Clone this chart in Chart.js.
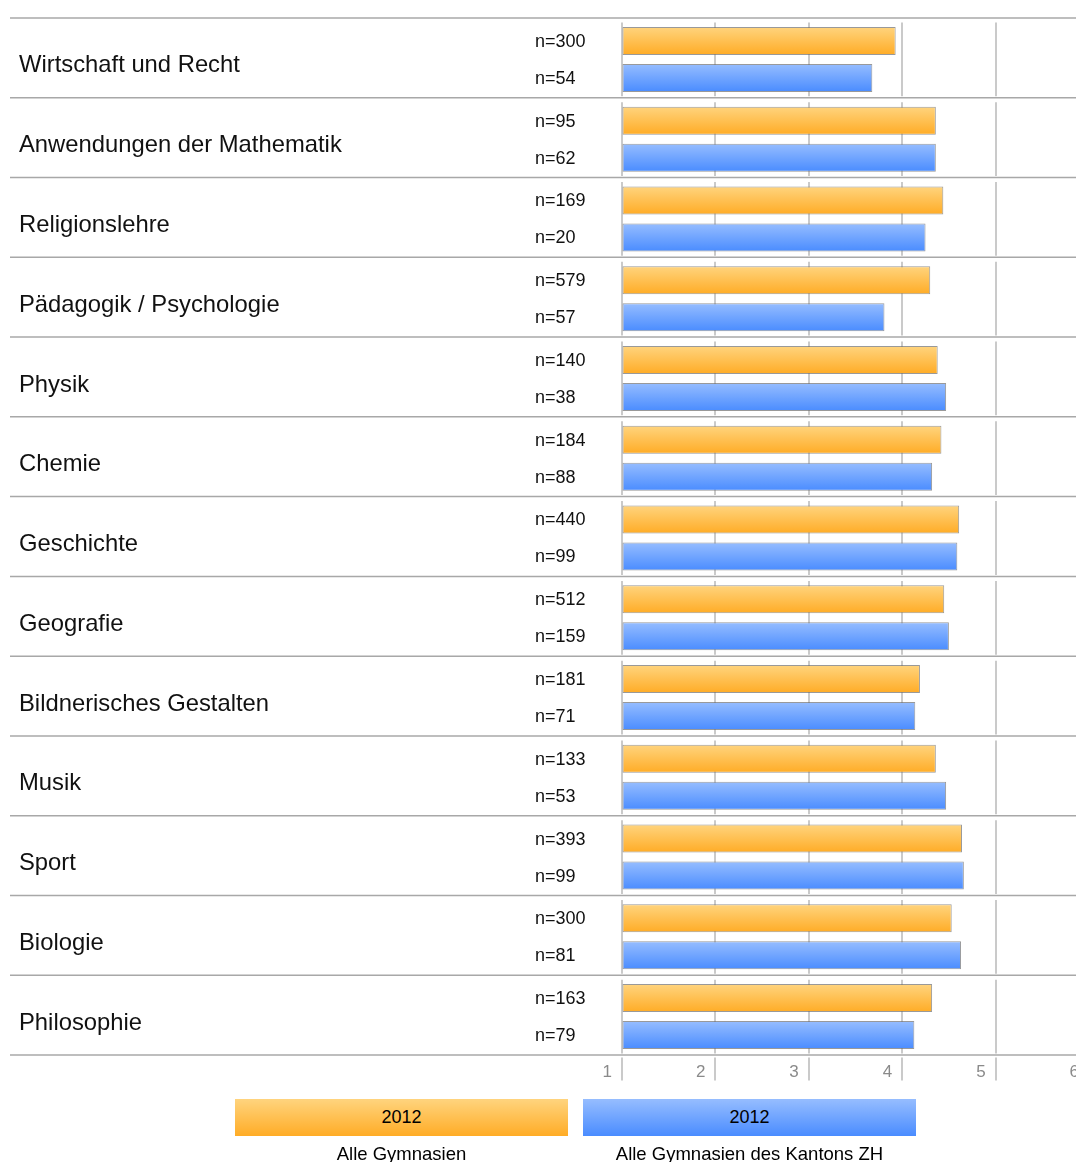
<!DOCTYPE html>
<html>
<head>
<meta charset="utf-8">
<script src="https://cdn.jsdelivr.net/npm/chart.js@4"></script>
<style>
  html, body { margin: 0; padding: 0; background: #fff; overflow: hidden; }
  #wrap { position: relative; width: 1076px; height: 1162px; overflow: hidden; }
  #c { position: absolute; left: 0; top: 0; }
  .lbox { position: absolute; top: 1099px; width: 333px; height: 37px;
          font: 18px "Liberation Sans", Arial, sans-serif; line-height: 37px;
          text-align: center; color: #000; }
  .lcap { position: absolute; top: 1143px; width: 333px; text-align: center;
          font: 18.5px "Liberation Sans", Arial, sans-serif; line-height: 21px; color: #000; white-space: nowrap; }
</style>
</head>
<body>
<div id="wrap">
  <canvas id="c" width="1089" height="1162"></canvas>
  <div class="lbox" id="lb0" style="left:235px;background:linear-gradient(#FFD47E,#FFAC26);"></div>
  <div class="lbox" id="lb1" style="left:583px;background:linear-gradient(#96BDFF,#4A8CFF);"></div>
  <div class="lcap" id="lc0" style="left:235px;"></div>
  <div class="lcap" id="lc1" style="left:583px;"></div>
</div>
<script>
const categories = ["Wirtschaft und Recht", "Anwendungen der Mathematik", "Religionslehre",
  "Pädagogik / Psychologie", "Physik", "Chemie", "Geschichte", "Geografie",
  "Bildnerisches Gestalten", "Musik", "Sport", "Biologie", "Philosophie"];
const valuesAlle = [3.93, 4.36, 4.44, 4.30, 4.38, 4.42, 4.61, 4.45, 4.19, 4.36, 4.64, 4.53, 4.32];
const valuesZH   = [3.68, 4.36, 4.25, 3.81, 4.47, 4.32, 4.59, 4.50, 4.14, 4.47, 4.66, 4.63, 4.13];
const nAlle = [300, 95, 169, 579, 140, 184, 440, 512, 181, 133, 393, 300, 163];
const nZH   = [54, 62, 20, 57, 38, 88, 99, 159, 71, 53, 99, 81, 79];
const seriesYears = ["2012", "2012"];
const seriesNames = ["Alle Gymnasien", "Alle Gymnasien des Kantons ZH"];
const xTicks = [1, 2, 3, 4, 5, 6];

document.getElementById('lb0').textContent = seriesYears[0];
document.getElementById('lb1').textContent = seriesYears[1];
document.getElementById('lc0').textContent = seriesNames[0];
document.getElementById('lc1').textContent = seriesNames[1];

const FONT = '"Liberation Sans", Arial, sans-serif';
const gradStops = [["#FFD47E", "#FFAC26"], ["#96BDFF", "#4A8CFF"]];

function barGrad(c, ds) {
  const ch = c.chart;
  if (!ch.chartArea || c.dataIndex === undefined || !ch.scales.y) return gradStops[ds][1];
  const band = (ch.chartArea.bottom - ch.chartArea.top) / categories.length;
  const off = band * 0.9277 / 4;
  const cy = ch.scales.y.getPixelForValue(c.dataIndex) + (ds === 0 ? -off : off);
  const g = ch.ctx.createLinearGradient(0, cy - 14, 0, cy + 14);
  g.addColorStop(0, gradStops[ds][0]);
  g.addColorStop(1, gradStops[ds][1]);
  return g;
}

const decor = {
  id: 'decor',
  beforeDatasetsDraw(chart) {
    const ctx = chart.ctx, a = chart.chartArea, x = chart.scales.x;
    const n = categories.length, band = (a.bottom - a.top) / n;
    ctx.save();
    ctx.strokeStyle = '#b8b8b8';
    ctx.lineWidth = 1.5;
    xTicks.forEach(v => {
      const px = Math.round(x.getPixelForValue(v));
      for (let i = 0; i < n; i++) {
        const t = a.top + i * band;
        ctx.beginPath();
        ctx.moveTo(px, t + 3);
        ctx.lineTo(px, t + band - 3);
        ctx.stroke();
      }
      ctx.beginPath();
      ctx.moveTo(px, a.bottom + 1);
      ctx.lineTo(px, a.bottom + 24);
      ctx.stroke();
    });
    ctx.strokeStyle = '#a8a8a8';
    ctx.lineWidth = 1.5;
    for (let i = 0; i <= n; i++) {
      const y = a.top + i * band - 1.5;
      ctx.beginPath();
      ctx.moveTo(10, y);
      ctx.lineTo(chart.width, y);
      ctx.stroke();
    }
    ctx.restore();
  },
  afterDatasetsDraw(chart) {
    const ctx = chart.ctx;
    ctx.save();
    ctx.font = '18px ' + FONT;
    ctx.fillStyle = '#111';
    ctx.textAlign = 'left';
    ctx.textBaseline = 'middle';
    const lists = [nAlle, nZH];
    [0, 1].forEach(ds => {
      chart.getDatasetMeta(ds).data.forEach((el, i) => {
        ctx.fillText('n=' + lists[ds][i], 535, el.y + 1);
      });
    });
    ctx.restore();
  }
};

new Chart(document.getElementById('c'), {
  type: 'bar',
  data: {
    labels: categories,
    datasets: [
      { label: seriesNames[0], data: valuesAlle, base: 1,
        backgroundColor: c => barGrad(c, 0), borderColor: 'rgba(110,110,110,0.7)',
        borderWidth: 1, borderSkipped: false },
      { label: seriesNames[1], data: valuesZH, base: 1,
        backgroundColor: c => barGrad(c, 1), borderColor: 'rgba(110,110,110,0.7)',
        borderWidth: 1, borderSkipped: false }
    ]
  },
  options: {
    indexAxis: 'y',
    responsive: false,
    animation: false,
    categoryPercentage: 0.9277,
    barPercentage: 0.757,
    layout: { padding: { left: 19, top: 19.5, right: 0, bottom: 0 } },
    plugins: { legend: { display: false }, tooltip: { enabled: false } },
    scales: {
      x: {
        type: 'linear', min: 1, max: 6,
        afterBuildTicks: s => { s.ticks = xTicks.map(v => ({ value: v })); },
        afterFit: s => { s.height = 105.5; s.paddingLeft = 0; s.paddingRight = 0; },
        grid: { drawOnChartArea: false, drawTicks: false },
        border: { display: false },
        ticks: { align: 'end', labelOffset: -10, padding: 6, color: '#8a8a8a',
                 font: { family: FONT, size: 17 }, autoSkip: false, maxRotation: 0 }
      },
      y: {
        afterFit: s => { s.width = 603; s.paddingTop = 0; s.paddingBottom = 0; },
        grid: { display: false },
        border: { display: false },
        ticks: { crossAlign: 'far', labelOffset: 6.5, color: '#111', autoSkip: false,
                 font: { family: FONT, size: 23.8 } }
      }
    }
  },
  plugins: [decor]
});
</script>
</body>
</html>
